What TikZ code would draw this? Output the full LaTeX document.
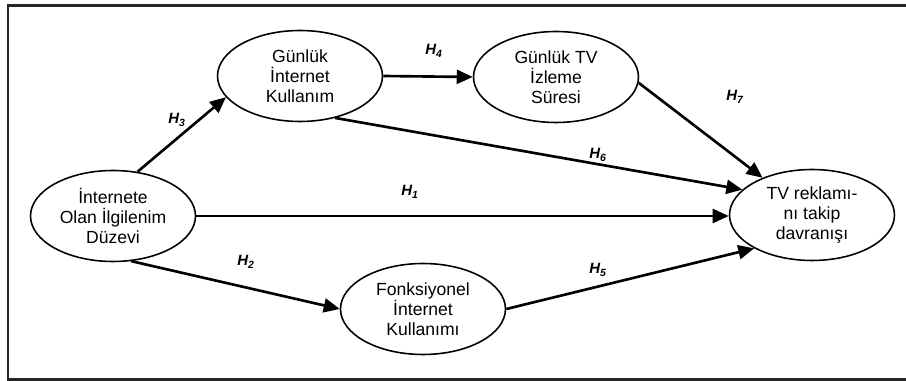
\documentclass[tikz,border=0pt]{standalone}
\usepackage{fontspec}
\setmainfont{Liberation Sans}
\usepackage{tikz}
\usetikzlibrary{arrows.meta,positioning,shapes,calc}

\tikzset{
  var/.style={draw,ellipse,line width=0.9pt,minimum width=3.3cm,minimum height=1.82cm,
    inner sep=0pt,align=center,font=\fontsize{10}{11.4}\selectfont},
  hyp/.style={line width=1.5pt,-{Triangle[length=3.2mm,width=2.8mm]}},
  hlab/.style={font=\fontsize{8.5}{9}\selectfont\bfseries\itshape}
}

\begin{document}
\begin{tikzpicture}[x=0.02cm,y=-0.02cm]
  \useasboundingbox (0,0) rectangle (906,381);
  \draw [line width=1.2pt,black!85] (8,5.5) rectangle (915,379.5);

  \node [var] (ilg) at (113,216) {İnternete\\Olan İlgilenim\\Düzevi};
  \node [var] (gik) at (300,76) {Günlük\\İnternet\\Kullanım};
  \node [var] (tvs) at (556,77) {Günlük TV\\İzleme\\Süresi};
  \node [var] (rek) at (812,215) {TV reklamı-\\nı takip\\davranışı};
  \node [var] (fik) at (423,309) {Fonksiyonel\\İnternet\\Kullanımı};

  \draw [hyp] (ilg.east) -- (ilg.east -| rek.west);
  \draw [hyp] (ilg.-68) -- (fik.west);
  \draw [hyp] (ilg.61) -- (gik.196);
  \draw [hyp] (gik.east) -- (tvs.west);
  \draw [hyp] (fik.east) -- (rek.210);
  \draw [hyp] (gik.-50) -- (rek.160);
  \draw [hyp] (tvs.-4) -- (rek.143);

  \node [hlab] (h1) at (410,192) {H\textsubscript{1}};
  \node [hlab] (h2) at (246,262) {H\textsubscript{2}};
  \node [hlab] (h3) at (177,120) {H\textsubscript{3}};
  \node [hlab] (h4) at (434,51) {H\textsubscript{4}};
  \node [hlab] (h5) at (598,270) {H\textsubscript{5}};
  \node [hlab] (h6) at (598,155) {H\textsubscript{6}};
  \node [hlab] (h7) at (735,97) {H\textsubscript{7}};
\end{tikzpicture}
\end{document}
